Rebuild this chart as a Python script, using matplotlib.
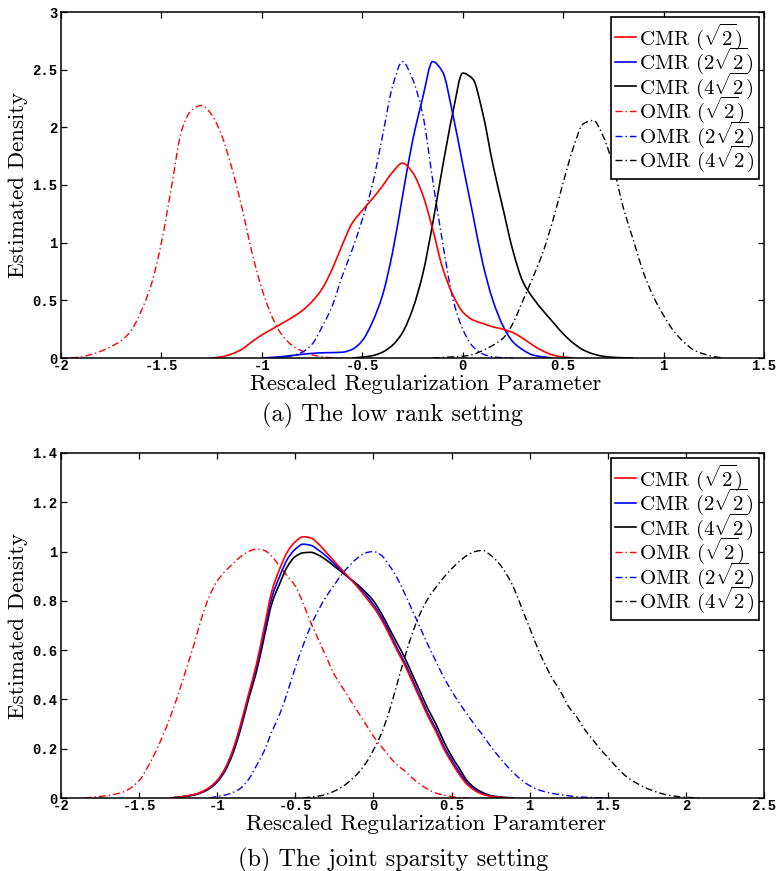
import matplotlib
matplotlib.use("Agg")
import matplotlib.pyplot as plt
from matplotlib.ticker import FixedLocator, FixedFormatter
from matplotlib.path import Path
from matplotlib.patches import PathPatch
from matplotlib.lines import Line2D

plt.rcParams['mathtext.fontset'] = 'cm'
plt.rcParams['axes.unicode_minus'] = False

# ---------------- data: panel (a) low rank ----------------
labels = [r"CMR ($\sqrt{2}$)", r"CMR ($2\sqrt{2}$)", r"CMR ($4\sqrt{2}$)",
          r"OMR ($\sqrt{2}$)", r"OMR ($2\sqrt{2}$)", r"OMR ($4\sqrt{2}$)"]
colors = ['#ff0000', '#0000ff', '#000000', '#ff0000', '#0000ff', '#000000']

a_cmr1_x = [-1.25, -1.20, -1.15, -1.10, -1.05, -1.00, -0.95, -0.90, -0.85, -0.80, -0.75, -0.70,
            -0.65, -0.60, -0.55, -0.50, -0.45, -0.40, -0.35, -0.30, -0.25, -0.20, -0.15, -0.10,
            -0.05, 0.00, 0.05, 0.10, 0.15, 0.20, 0.25, 0.30, 0.35, 0.40, 0.45, 0.50, 0.55]
a_cmr1_y = [0.0, 0.01, 0.035, 0.075, 0.14, 0.20, 0.25, 0.30, 0.35, 0.41, 0.49, 0.60,
            0.77, 0.98, 1.17, 1.28, 1.38, 1.49, 1.61, 1.69, 1.61, 1.42, 1.12, 0.78,
            0.55, 0.40, 0.33, 0.30, 0.27, 0.25, 0.22, 0.17, 0.11, 0.06, 0.025, 0.008, 0.0]

a_cmr2_x = [-1.00, -0.95, -0.90, -0.85, -0.80, -0.75, -0.70, -0.65, -0.60, -0.55, -0.50, -0.45,
            -0.40, -0.35, -0.30, -0.25, -0.20, -0.15, -0.10, -0.05, 0.00, 0.05, 0.10, 0.15,
            0.20, 0.25, 0.30, 0.35, 0.40, 0.45]
a_cmr2_y = [0.0, 0.005, 0.012, 0.022, 0.032, 0.040, 0.045, 0.047, 0.05, 0.075, 0.15, 0.31,
            0.54, 0.91, 1.40, 1.88, 2.25, 2.57, 2.48, 2.12, 1.68, 1.25, 0.82, 0.50,
            0.28, 0.14, 0.07, 0.025, 0.01, 0.0]

a_cmr3_x = [-0.55, -0.50, -0.45, -0.40, -0.35, -0.30, -0.25, -0.20, -0.15, -0.10, -0.05, 0.00,
            0.05, 0.10, 0.15, 0.20, 0.25, 0.30, 0.35, 0.40, 0.45, 0.50, 0.55, 0.60,
            0.65, 0.70, 0.75, 0.80, 0.85]
a_cmr3_y = [0.0, 0.008, 0.02, 0.05, 0.11, 0.22, 0.42, 0.72, 1.16, 1.66, 2.12, 2.47,
            2.42, 2.12, 1.68, 1.30, 0.93, 0.66, 0.52, 0.41, 0.31, 0.21, 0.13, 0.07,
            0.035, 0.015, 0.006, 0.002, 0.0]

a_omr1_x = [-1.95, -1.90, -1.85, -1.80, -1.75, -1.70, -1.65, -1.60, -1.55, -1.50, -1.45, -1.40,
            -1.35, -1.30, -1.25, -1.20, -1.15, -1.10, -1.05, -1.00, -0.95, -0.90, -0.85, -0.80,
            -0.75, -0.70, -0.65, -0.60]
a_omr1_y = [0.0, 0.01, 0.03, 0.06, 0.10, 0.15, 0.24, 0.41, 0.64, 1.00, 1.48, 1.97,
            2.15, 2.19, 2.11, 1.93, 1.65, 1.31, 0.92, 0.60, 0.36, 0.20, 0.11, 0.06,
            0.028, 0.01, 0.003, 0.0]

a_omr2_x = [-0.95, -0.90, -0.85, -0.80, -0.75, -0.70, -0.65, -0.60, -0.55, -0.50, -0.45, -0.40,
            -0.35, -0.30, -0.25, -0.20, -0.15, -0.10, -0.05, 0.00, 0.05, 0.10, 0.15, 0.20, 0.25]
a_omr2_y = [0.0, 0.005, 0.02, 0.05, 0.12, 0.27, 0.45, 0.71, 0.94, 1.20, 1.50, 1.92,
            2.35, 2.57, 2.42, 2.12, 1.55, 1.00, 0.52, 0.25, 0.10, 0.035, 0.01, 0.003, 0.0]

a_omr3_x = [-0.15, -0.10, -0.05, 0.00, 0.05, 0.10, 0.15, 0.20, 0.25, 0.30, 0.35, 0.40,
            0.45, 0.50, 0.55, 0.60, 0.65, 0.70, 0.75, 0.80, 0.85, 0.90, 0.95, 1.00,
            1.05, 1.10, 1.15, 1.20, 1.25, 1.30]
a_omr3_y = [0.0, 0.005, 0.01, 0.015, 0.03, 0.065, 0.11, 0.17, 0.30, 0.50, 0.70, 0.92,
            1.20, 1.52, 1.82, 2.03, 2.06, 1.92, 1.66, 1.30, 1.02, 0.74, 0.53, 0.37,
            0.235, 0.14, 0.07, 0.035, 0.012, 0.0]

# ---------------- data: panel (b) joint sparsity ----------------
b_cmr_x = [-1.30, -1.25, -1.20, -1.15, -1.10, -1.05, -1.00, -0.95, -0.90, -0.85, -0.80, -0.75,
           -0.70, -0.65, -0.60, -0.55, -0.50, -0.45, -0.40, -0.35, -0.30, -0.25, -0.20, -0.15,
           -0.10, -0.05, 0.00, 0.05, 0.10, 0.15, 0.20, 0.25, 0.30, 0.35, 0.40, 0.45,
           0.50, 0.55, 0.60, 0.65, 0.70, 0.75, 0.80, 0.85, 0.90]
b_cmr1_y = [0.0, 0.003, 0.008, 0.014, 0.025, 0.043, 0.072, 0.12, 0.195, 0.30, 0.42, 0.54,
            0.69, 0.84, 0.93, 1.00, 1.04, 1.06, 1.055, 1.03, 0.995, 0.96, 0.925, 0.89,
            0.855, 0.815, 0.775, 0.725, 0.665, 0.60, 0.54, 0.47, 0.40, 0.33, 0.27, 0.20,
            0.145, 0.095, 0.055, 0.03, 0.015, 0.007, 0.003, 0.0, 0.0]
b_cmr2_y = [0.0, 0.003, 0.0075, 0.013, 0.023, 0.04, 0.068, 0.115, 0.19, 0.29, 0.41, 0.525,
            0.67, 0.815, 0.90, 0.97, 1.01, 1.03, 1.025, 1.005, 0.98, 0.95, 0.92, 0.89,
            0.86, 0.825, 0.785, 0.735, 0.675, 0.61, 0.55, 0.48, 0.41, 0.34, 0.28, 0.21,
            0.155, 0.105, 0.06, 0.034, 0.018, 0.008, 0.003, 0.0, 0.0]
b_cmr3_y = [0.0, 0.003, 0.007, 0.012, 0.022, 0.038, 0.065, 0.11, 0.18, 0.28, 0.40, 0.51,
            0.65, 0.79, 0.87, 0.94, 0.98, 0.995, 0.997, 0.985, 0.965, 0.94, 0.915, 0.89,
            0.865, 0.835, 0.80, 0.75, 0.69, 0.63, 0.57, 0.50, 0.43, 0.36, 0.30, 0.23,
            0.17, 0.12, 0.07, 0.04, 0.022, 0.01, 0.005, 0.002, 0.0]

b_omr1_x = [-1.85, -1.80, -1.70, -1.60, -1.50, -1.45, -1.40, -1.35, -1.30, -1.25, -1.20, -1.15,
            -1.10, -1.05, -1.00, -0.95, -0.90, -0.85, -0.80, -0.75, -0.70, -0.65, -0.60, -0.55,
            -0.50, -0.45, -0.40, -0.35, -0.30, -0.25, -0.20, -0.15, -0.10, -0.05, 0.00, 0.05,
            0.10, 0.15, 0.20, 0.25, 0.30, 0.35, 0.40, 0.45, 0.50, 0.55, 0.60]
b_omr1_y = [0.0, 0.003, 0.01, 0.025, 0.07, 0.12, 0.18, 0.25, 0.33, 0.42, 0.52, 0.62,
            0.73, 0.82, 0.88, 0.92, 0.95, 0.98, 1.0, 1.01, 1.005, 0.98, 0.94, 0.90,
            0.86, 0.79, 0.71, 0.64, 0.57, 0.50, 0.45, 0.40, 0.35, 0.30, 0.25, 0.21,
            0.17, 0.135, 0.11, 0.08, 0.055, 0.035, 0.02, 0.012, 0.006, 0.002, 0.0]

b_omr2_x = [-1.05, -1.00, -0.95, -0.90, -0.85, -0.80, -0.75, -0.70, -0.65, -0.60, -0.55, -0.50,
            -0.45, -0.40, -0.35, -0.30, -0.25, -0.20, -0.15, -0.10, -0.05, 0.00, 0.05, 0.10,
            0.15, 0.20, 0.25, 0.30, 0.35, 0.40, 0.45, 0.50, 0.55, 0.60, 0.65, 0.70,
            0.75, 0.80, 0.85, 0.90, 0.95, 1.00, 1.05, 1.10, 1.15, 1.20, 1.25, 1.30, 1.40, 1.50]
b_omr2_y = [0.0, 0.006, 0.012, 0.022, 0.04, 0.075, 0.13, 0.19, 0.27, 0.34, 0.43, 0.53,
            0.62, 0.70, 0.765, 0.82, 0.865, 0.91, 0.945, 0.975, 0.995, 1.0, 0.985, 0.945,
            0.895, 0.83, 0.76, 0.69, 0.62, 0.555, 0.49, 0.435, 0.385, 0.34, 0.295, 0.255,
            0.21, 0.17, 0.133, 0.10, 0.072, 0.05, 0.035, 0.025, 0.018, 0.013, 0.009, 0.005, 0.002, 0.0]

b_omr3_x = [-0.45, -0.40, -0.35, -0.30, -0.25, -0.20, -0.15, -0.10, -0.05, 0.00, 0.05, 0.10,
            0.15, 0.20, 0.25, 0.30, 0.35, 0.40, 0.45, 0.50, 0.55, 0.60, 0.65, 0.70,
            0.75, 0.80, 0.85, 0.90, 0.95, 1.00, 1.05, 1.10, 1.15, 1.20, 1.25, 1.30,
            1.35, 1.40, 1.45, 1.50, 1.55, 1.60, 1.65, 1.70, 1.75, 1.80, 1.85, 1.90, 2.00, 2.10]
b_omr3_y = [0.0, 0.004, 0.008, 0.015, 0.028, 0.045, 0.07, 0.10, 0.14, 0.195, 0.26, 0.35,
            0.46, 0.57, 0.67, 0.75, 0.81, 0.855, 0.895, 0.93, 0.96, 0.985, 1.0, 1.005,
            0.985, 0.955, 0.91, 0.85, 0.77, 0.69, 0.61, 0.54, 0.48, 0.43, 0.37, 0.33,
            0.28, 0.24, 0.20, 0.165, 0.13, 0.097, 0.073, 0.055, 0.039, 0.027, 0.017, 0.01, 0.003, 0.0]

# ---------------- axes settings ----------------
a_xticks = [-2, -1.5, -1, -0.5, 0, 0.5, 1, 1.5]
a_xticklabels = ['-2', '-1.5', '-1', '-0.5', '0', '0.5', '1', '1.5']
a_yticks = [0, 0.5, 1, 1.5, 2, 2.5, 3]
a_yticklabels = ['0', '0.5', '1', '1.5', '2', '2.5', '3']
b_xticks = [-2, -1.5, -1, -0.5, 0, 0.5, 1, 1.5, 2, 2.5]
b_xticklabels = ['-2', '-1.5', '-1', '-0.5', '0', '0.5', '1', '1.5', '2', '2.5']
b_yticks = [0, 0.2, 0.4, 0.6, 0.8, 1.0, 1.2, 1.4]
b_yticklabels = ['0', '0.2', '0.4', '0.6', '0.8', '1', '1.2', '1.4']

SERIF = 'cmr10'
FS_LAB = 16.5
FS_CAP = 17.5
FS_LEG = 15
TICKFONT = 'Liberation Mono'
dashdot = (0, (5, 2.2, 1, 2.2))


def smooth_path(xs, ys):
    """Monotone cubic (PCHIP-style) rendering of the read points as Bezier segments."""
    n = len(xs)
    h = [xs[k + 1] - xs[k] for k in range(n - 1)]
    d = [(ys[k + 1] - ys[k]) / h[k] for k in range(n - 1)]
    m = [0.0] * n
    m[0] = d[0]
    m[-1] = d[-1]
    for k in range(1, n - 1):
        if d[k - 1] * d[k] <= 0:
            m[k] = 0.0
        else:
            w1 = 2 * h[k] + h[k - 1]
            w2 = h[k] + 2 * h[k - 1]
            m[k] = (w1 + w2) / (w1 / d[k - 1] + w2 / d[k])
    verts = [(xs[0], ys[0])]
    codes = [Path.MOVETO]
    for k in range(n - 1):
        verts += [(xs[k] + h[k] / 3, ys[k] + m[k] * h[k] / 3),
                  (xs[k + 1] - h[k] / 3, ys[k + 1] - m[k + 1] * h[k] / 3),
                  (xs[k + 1], ys[k + 1])]
        codes += [Path.CURVE4] * 3
    return Path(verts, codes)


fig = plt.figure(figsize=(7.78, 8.71), dpi=100)
W, H = 778, 871


def rect(l, t, r, b):
    return [l / W, 1 - b / H, (r - l) / W, (b - t) / H]


ax1 = fig.add_axes(rect(61, 12, 764, 358))
ax2 = fig.add_axes(rect(61, 453, 764, 798))


def style(ax, xt, xtl, yt, ytl, xlim, ylim, xlabel):
    ax.set_xlim(*xlim)
    ax.set_ylim(*ylim)
    ax.xaxis.set_major_locator(FixedLocator(xt))
    ax.xaxis.set_major_formatter(FixedFormatter(xtl))
    ax.yaxis.set_major_locator(FixedLocator(yt))
    ax.yaxis.set_major_formatter(FixedFormatter(ytl))
    ax.tick_params(direction='in', length=4.5, width=0.9, top=True, right=True,
                   labelsize=10)
    ax.tick_params(axis='x', pad=0.8)
    ax.tick_params(axis='y', pad=2.5)
    for lab in ax.get_xticklabels() + ax.get_yticklabels():
        lab.set_family(TICKFONT)
        lab.set_weight('bold')
    for s in ax.spines.values():
        s.set_linewidth(1.1)
    ax.set_xlabel(xlabel, family=SERIF, fontsize=FS_LAB)
    ax.xaxis.set_label_coords(0.519, -0.049)
    ax.set_ylabel('Estimated Density', family=SERIF, fontsize=FS_LAB)
    ax.yaxis.set_label_coords(-0.047, 0.5)


a_series = [(a_cmr1_x, a_cmr1_y), (a_cmr2_x, a_cmr2_y), (a_cmr3_x, a_cmr3_y),
            (a_omr1_x, a_omr1_y), (a_omr2_x, a_omr2_y), (a_omr3_x, a_omr3_y)]
b_series = [(b_cmr_x, b_cmr1_y), (b_cmr_x, b_cmr2_y), (b_cmr_x, b_cmr3_y),
            (b_omr1_x, b_omr1_y), (b_omr2_x, b_omr2_y), (b_omr3_x, b_omr3_y)]

for ax, series in ((ax1, a_series), (ax2, b_series)):
    handles = []
    for i, (xs, ys) in enumerate(series):
        lw = 1.2 if i < 3 else 1.0
        ls = '-' if i < 3 else dashdot
        patch = PathPatch(smooth_path(xs, ys), fill=False, edgecolor=colors[i],
                          lw=lw, ls=ls, zorder=2 + (0.1 * (3 - i) if i < 3 else 0))
        ax.add_patch(patch)
        handles.append(Line2D([], [], color=colors[i], lw=lw, ls=ls))
    leg = ax.legend(handles, labels, loc='upper right', prop={'family': SERIF, 'size': FS_LEG},
                    frameon=True, fancybox=False, framealpha=1, edgecolor='black',
                    handlelength=1.0, handletextpad=0.15, borderpad=0.2,
                    labelspacing=-0.28, borderaxespad=0.25)
    leg.get_frame().set_linewidth(1.2)

style(ax1, a_xticks, a_xticklabels, a_yticks, a_yticklabels, (-2, 1.5), (0, 3),
      'Rescaled Regularization Parameter')
style(ax2, b_xticks, b_xticklabels, b_yticks, b_yticklabels, (-2, 2.5), (0, 1.4),
      'Rescaled Regularization Paramterer')

fig.text(392 / W, 1 - 415 / H, '(a) The low rank setting', family=SERIF, fontsize=FS_CAP,
         ha='center', va='center')
fig.text(393 / W, 1 - 860 / H, '(b) The joint sparsity setting', family=SERIF, fontsize=FS_CAP,
         ha='center', va='center')

fig.savefig('out.png', dpi=100)
